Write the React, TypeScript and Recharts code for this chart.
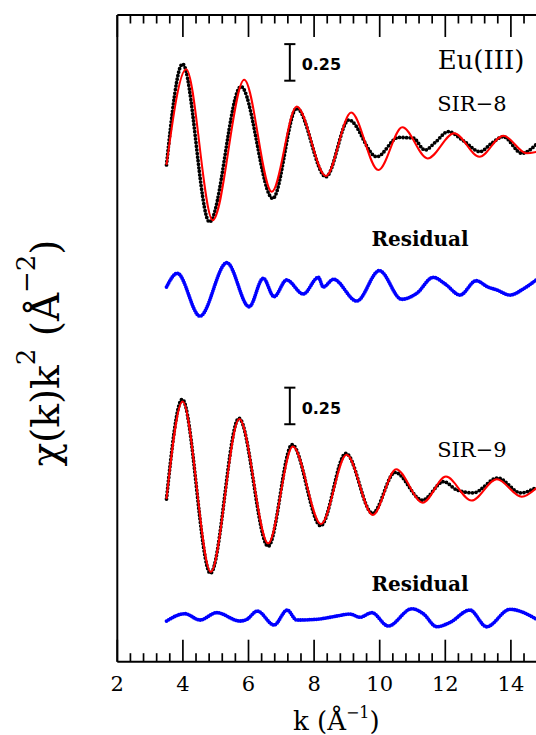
import React from 'react';
import {
  ComposedChart,
  Line,
  XAxis,
  YAxis,
  ReferenceLine,
  ReferenceDot,
  Customized,
} from 'recharts';

// ---------- data (k in 1/Å, chi(k)k^2 relative to each curve's baseline) ----------
const K_SIR8_DATA = [3.5, 3.99, 4.81, 5.77, 6.74, 7.47, 8.36, 9.06, 9.91, 10.57, 11.02, 11.38, 11.7, 12.09, 12.55, 13.06, 13.4, 13.77, 14.33, 14.8];
const CHI_SIR8_DATA = [-0.116, 0.575, -0.505, 0.42, -0.345, 0.272, -0.197, 0.192, -0.06, 0.072, 0.068, -0.014, 0.04, 0.112, 0.05, -0.025, 0.03, 0.077, -0.036, 0.03];

const K_SIR8_FIT = [3.5, 4.1, 4.91, 5.87, 6.71, 7.47, 8.36, 9.13, 9.96, 10.69, 11.46, 12.27, 13.04, 13.77, 14.48, 14.8];
const CHI_SIR8_FIT = [-0.116, 0.539, -0.493, 0.466, -0.299, 0.283, -0.192, 0.242, -0.151, 0.142, -0.071, 0.101, -0.06, 0.084, -0.036, -0.025];

const K_RES8 = [3.5, 3.83, 4.52, 5.34, 6.02, 6.45, 6.78, 7.16, 7.67, 8.13, 8.28, 8.59, 9.3, 9.99, 10.67, 11.13, 11.63, 12.0, 12.45, 12.94, 13.3, 13.57, 13.97, 14.4, 14.8];
const CHI_RES8 = [0, 0.094, -0.199, 0.166, -0.135, 0.06, -0.066, 0.048, -0.048, 0.066, 0.0, 0.053, -0.096, 0.112, -0.084, -0.043, 0.066, 0.02, -0.055, 0.043, 0.0, -0.02, -0.055, -0.01, 0.053];

const K_SIR9_DATA = [3.5, 3.98, 4.84, 5.71, 6.6, 7.33, 8.2, 8.97, 9.78, 10.47, 11.3, 11.95, 12.35, 12.85, 13.6, 14.3, 14.8];
const CHI_SIR9_DATA = [-0.062, 0.62, -0.57, 0.49, -0.385, 0.31, -0.245, 0.25, -0.16, 0.12, -0.07, 0.057, 0.0, -0.02, 0.082, -0.02, 0.02];

const K_SIR9_FIT = [3.5, 3.99, 4.85, 5.72, 6.6, 7.35, 8.21, 8.99, 9.79, 10.5, 11.31, 12.02, 12.8, 13.57, 14.33, 14.8];
const CHI_SIR9_FIT = [-0.062, 0.605, -0.56, 0.484, -0.365, 0.297, -0.233, 0.24, -0.171, 0.142, -0.087, 0.091, -0.073, 0.073, -0.046, 0.018];

const K_RES9 = [3.5, 4.06, 4.52, 5.03, 5.74, 5.94, 6.27, 6.78, 7.18, 7.47, 8.08, 8.69, 9.09, 9.4, 9.76, 10.26, 10.98, 11.33, 11.74, 12.14, 12.75, 13.26, 13.97, 14.8];
const CHI_RES9 = [0, 0.05, 0.007, 0.057, 0, 0.01, 0.068, -0.027, 0.075, 0.007, 0.012, 0.034, 0.048, 0.026, 0.057, -0.034, 0.084, 0.05, -0.039, -0.01, 0.075, -0.039, 0.08, 0.01];

// vertical offsets of the stacked curves
const OFFSET_SIR8 = 3.511;
const OFFSET_RES8 = 2.561;
const OFFSET_SIR9 = 1.174;
const OFFSET_RES9 = 0.278;

// axes
const X_DOMAIN: [number, number] = [2, 16];
const Y_DOMAIN: [number, number] = [0, 4.42];
const MAJOR_TICKS = [2, 4, 6, 8, 10, 12, 14];
const TICK_LABELS = ['2', '4', '6', '8', '10', '12', '14'];
const MINOR_STEP = 0.4;

// scale bar
const SCALE_BAR = 0.25;

// ---------- build tables ----------
const toPoints = (ks: number[], vals: number[], off: number) =>
  ks.map((k, i) => ({ k, v: vals[i] + off }));

const sir8Data = toPoints(K_SIR8_DATA, CHI_SIR8_DATA, OFFSET_SIR8);
const sir8Fit = toPoints(K_SIR8_FIT, CHI_SIR8_FIT, OFFSET_SIR8);
const res8 = toPoints(K_RES8, CHI_RES8, OFFSET_RES8);
const sir9Data = toPoints(K_SIR9_DATA, CHI_SIR9_DATA, OFFSET_SIR9);
const sir9Fit = toPoints(K_SIR9_FIT, CHI_SIR9_FIT, OFFSET_SIR9);
const res9 = toPoints(K_RES9, CHI_RES9, OFFSET_RES9);

const ALL_TICKS: number[] = [];
for (let i = 0; i < MAJOR_TICKS.length; i++) {
  for (let j = 0; j < 5; j++) {
    ALL_TICKS.push(Math.round((MAJOR_TICKS[i] + j * MINOR_STEP) * 10) / 10);
  }
}

const SERIF = "'DejaVu Serif', serif";
const SANS = "'DejaVu Sans', sans-serif";

const majorIndex = (v: number) => MAJOR_TICKS.findIndex((m) => Math.abs(m - v) < 1e-6);

const makeTick = (side: 'top' | 'bottom') => (props: any) => {
  const { x, y, payload } = props;
  const v = payload.value as number;
  const mi = majorIndex(v);
  const major = mi >= 0;
  const len = major ? 22 : 8.5;
  const dir = side === 'bottom' ? -1 : 1;
  return (
    <g>
      <line x1={x} x2={x} y1={y} y2={y + dir * len} stroke="#000" strokeWidth={1.7} />
      {side === 'bottom' && major && (
        <text x={x} y={y + 29} textAnchor="middle" fontFamily={SERIF} fontSize={21} fill="#000">
          {TICK_LABELS[mi]}
        </text>
      )}
    </g>
  );
};

const textLabel = (
  txt: string,
  opts: { size: number; family: string; weight?: string | number; anchor?: 'start' | 'middle' | 'end' }
) => ({
  content: (p: any) => {
    const vb = p.viewBox || {};
    return (
      <text
        x={vb.x}
        y={vb.y}
        textAnchor={opts.anchor || 'middle'}
        fontFamily={opts.family}
        fontSize={opts.size}
        fontWeight={opts.weight || 'normal'}
        fill="#000"
      >
        {txt}
      </text>
    );
  },
});

const AxisLabels = () => (
  <g>
    <text x={285} y={722} fontFamily={SERIF} fontSize={26} fill="#000">
      <tspan>k (Å</tspan>
      <tspan dy={-12} fontSize={16}>−1</tspan>
      <tspan dy={12}>)</tspan>
    </text>
    <text
      transform="translate(51,345) rotate(-90)"
      textAnchor="middle"
      fontFamily={SERIF}
      fontSize={39}
      fill="#000"
    >
      <tspan>χ(k)k</tspan>
      <tspan dy={-24} fontSize={26}>2</tspan>
      <tspan dy={24}>{'\u00A0(Å'}</tspan>
      <tspan dy={-24} fontSize={26}>−2</tspan>
      <tspan dy={24}>)</tspan>
    </text>
  </g>
);

const BAR_K = 7.26;
const CAP = 0.17;
const BAR1_LOW = 3.971;
const BAR2_LOW = 1.623;

export default function App() {
  const common = {
    xAxisId: 'b',
    yAxisId: 'l',
    dataKey: 'v',
    type: 'monotone' as const,
    dot: false,
    activeDot: false,
    isAnimationActive: false,
  };
  const dotted = { stroke: '#000', strokeWidth: 3.8, strokeDasharray: '0 3.6', strokeLinecap: 'round' as const };
  const blue = { stroke: '#0000ff', strokeWidth: 3.8, strokeDasharray: '0 2.3', strokeLinecap: 'round' as const };
  return (
    <div style={{ position: 'absolute', left: 0, top: 0, width: 536, height: 735, overflow: 'hidden', background: '#fff' }}>
      <div style={{ position: 'absolute', left: 8, top: 8 }}>
        <ComposedChart
          width={590}
          height={727}
          margin={{ top: 6, right: 21.5, left: 109.3, bottom: 13.3 }}
        >
          <XAxis
            xAxisId="b"
            type="number"
            dataKey="k"
            domain={X_DOMAIN}
            ticks={ALL_TICKS}
            interval={0}
            allowDataOverflow
            orientation="bottom"
            height={60}
            tickSize={0}
            tickMargin={0}
            tickLine={false}
            axisLine={{ stroke: '#000', strokeWidth: 2 }}
            tick={makeTick('bottom')}
          />
          <XAxis
            xAxisId="t"
            type="number"
            dataKey="k"
            domain={X_DOMAIN}
            ticks={ALL_TICKS}
            interval={0}
            allowDataOverflow
            orientation="top"
            height={1}
            tickSize={0}
            tickMargin={0}
            tickLine={false}
            axisLine={{ stroke: '#000', strokeWidth: 2 }}
            tick={makeTick('top')}
          />
          <YAxis yAxisId="l" type="number" domain={Y_DOMAIN} hide allowDataOverflow />
          <ReferenceLine xAxisId="b" yAxisId="l" x={2} stroke="#000" strokeWidth={2} />

          <Line {...common} data={sir8Data} {...dotted} />
          <Line {...common} data={sir8Fit} stroke="#ff0000" strokeWidth={2} />
          <Line {...common} data={res8} {...blue} />
          <Line {...common} data={sir9Data} {...dotted} />
          <Line {...common} data={sir9Fit} stroke="#ff0000" strokeWidth={2} />
          <Line {...common} data={res9} {...blue} />

          {/* scale bars */}
          <ReferenceLine xAxisId="b" yAxisId="l" segment={[{ x: BAR_K, y: BAR1_LOW }, { x: BAR_K, y: BAR1_LOW + SCALE_BAR }]} stroke="#000" strokeWidth={2} />
          <ReferenceLine xAxisId="b" yAxisId="l" segment={[{ x: BAR_K - CAP, y: BAR1_LOW }, { x: BAR_K + CAP, y: BAR1_LOW }]} stroke="#000" strokeWidth={2} />
          <ReferenceLine xAxisId="b" yAxisId="l" segment={[{ x: BAR_K - CAP, y: BAR1_LOW + SCALE_BAR }, { x: BAR_K + CAP, y: BAR1_LOW + SCALE_BAR }]} stroke="#000" strokeWidth={2} />
          <ReferenceLine xAxisId="b" yAxisId="l" segment={[{ x: BAR_K, y: BAR2_LOW }, { x: BAR_K, y: BAR2_LOW + SCALE_BAR }]} stroke="#000" strokeWidth={2} />
          <ReferenceLine xAxisId="b" yAxisId="l" segment={[{ x: BAR_K - CAP, y: BAR2_LOW }, { x: BAR_K + CAP, y: BAR2_LOW }]} stroke="#000" strokeWidth={2} />
          <ReferenceLine xAxisId="b" yAxisId="l" segment={[{ x: BAR_K - CAP, y: BAR2_LOW + SCALE_BAR }, { x: BAR_K + CAP, y: BAR2_LOW + SCALE_BAR }]} stroke="#000" strokeWidth={2} />

          {/* annotations */}
          <ReferenceDot xAxisId="b" yAxisId="l" x={7.62} y={4.044} r={0} fill="none" stroke="none" ifOverflow="visible" label={textLabel('0.25', { size: 16, family: SANS, weight: 'bold', anchor: 'start' })} />
          <ReferenceDot xAxisId="b" yAxisId="l" x={7.62} y={1.693} r={0} fill="none" stroke="none" ifOverflow="visible" label={textLabel('0.25', { size: 16, family: SANS, weight: 'bold', anchor: 'start' })} />
          <ReferenceDot xAxisId="b" yAxisId="l" x={13.09} y={4.048} r={0} fill="none" stroke="none" ifOverflow="visible" label={textLabel('Eu(III)', { size: 26, family: SERIF })} />
          <ReferenceDot xAxisId="b" yAxisId="l" x={12.81} y={3.764} r={0} fill="none" stroke="none" ifOverflow="visible" label={textLabel('SIR−8', { size: 21, family: SERIF })} />
          <ReferenceDot xAxisId="b" yAxisId="l" x={12.81} y={1.401} r={0} fill="none" stroke="none" ifOverflow="visible" label={textLabel('SIR−9', { size: 21, family: SERIF })} />
          <ReferenceDot xAxisId="b" yAxisId="l" x={11.23} y={2.843} r={0} fill="none" stroke="none" ifOverflow="visible" label={textLabel('Residual', { size: 20, family: SERIF, weight: 'bold' })} />
          <ReferenceDot xAxisId="b" yAxisId="l" x={11.23} y={0.485} r={0} fill="none" stroke="none" ifOverflow="visible" label={textLabel('Residual', { size: 20, family: SERIF, weight: 'bold' })} />

          <Customized component={AxisLabels} />
        </ComposedChart>
      </div>
    </div>
  );
}
